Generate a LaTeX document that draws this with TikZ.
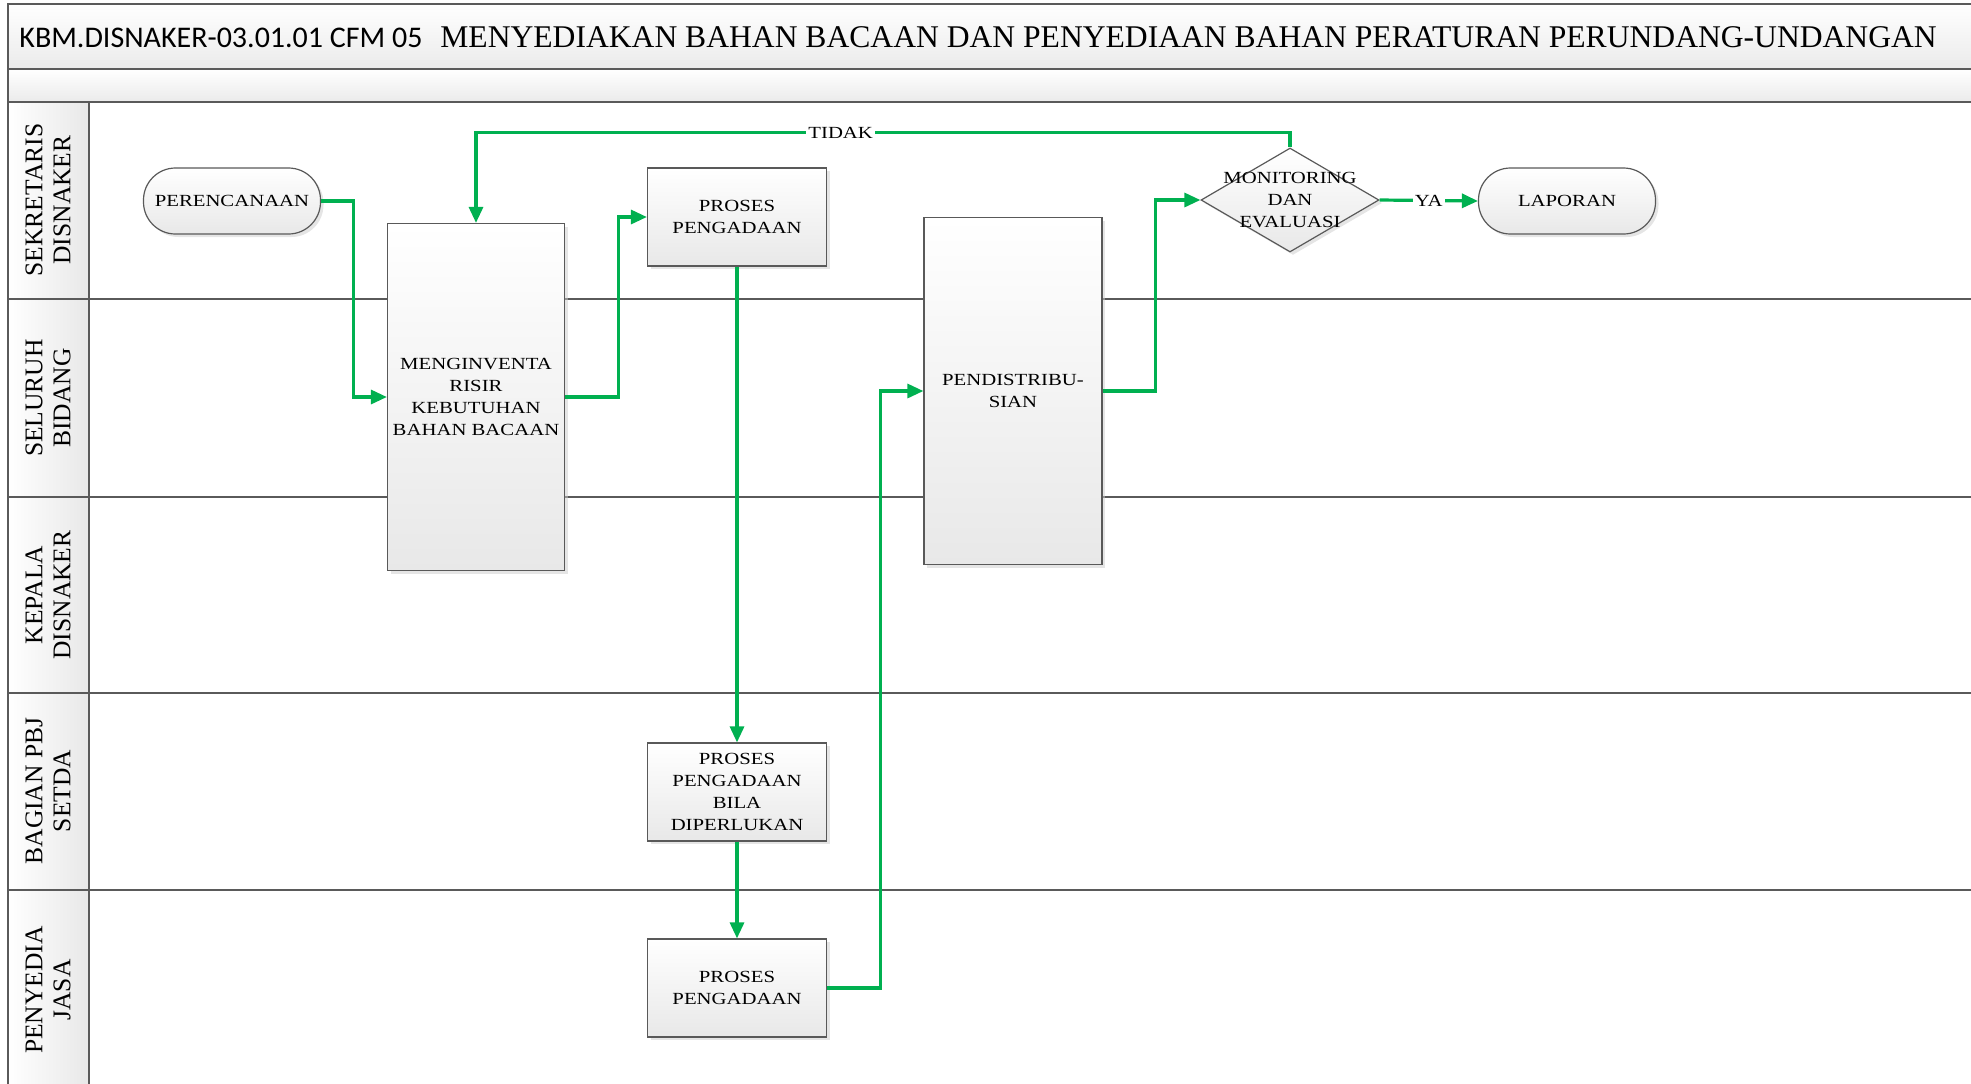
\documentclass[tikz,border=0pt]{standalone}
\usepackage{fontspec}
\setmainfont{Liberation Serif}
\newfontfamily\boxfont[FakeStretch=1.22]{Liberation Serif}
\newfontfamily\codefont{Carlito}
\usetikzlibrary{shapes.geometric,arrows.meta,shadows}
\definecolor{flowgreen}{HTML}{00B050}
\definecolor{framegray}{HTML}{5A5A5A}

\begin{document}
\begin{tikzpicture}[x=0.5pt,y=-0.5pt,
  frame/.style={draw=framegray, line width=1pt},
  boxtext/.style={font=\boxfont\fontsize{8.5}{11}\selectfont, align=center, text=black},
  shade/.style={top color=white, bottom color=black!9,
    drop shadow={shadow xshift=1.5pt, shadow yshift=-1.5pt, fill=black!20}},
  task/.style={boxtext, shade, draw=black!65, line width=0.6pt, rectangle, inner sep=0pt},
  terminal/.style={task, rounded corners=16pt},
  decision/.style={shade, draw=black!65, line width=0.6pt, diamond, inner sep=0pt,
    minimum width=89pt, minimum height=52pt},
  flow/.style={draw=flowgreen, line width=1.6pt, -{Triangle[length=8pt,width=7pt]}},
  lanetitle/.style={font=\fontsize{12.75}{14}\selectfont, align=center, rotate=90, inner sep=0pt},
  tag/.style={boxtext, fill=white, inner sep=1pt}
]
\useasboundingbox (0,0) rectangle (1971,1083);

% header bands and lane column
\path[top color=white, bottom color=black!8] (8,4) rectangle (1980,69);
\path[top color=white, bottom color=black!8] (8,69) rectangle (1980,102);
\path[left color=white, right color=black!9] (8,102) rectangle (89,1095);

% frame and lane separators
\draw[frame] (1980,4) -- (8,4) -- (8,1095);
\draw[frame] (8,69) -- (1980,69);
\draw[frame] (8,102) -- (1980,102);
\foreach \ly in {299,497,693,890}
  \draw[frame] (8,\ly) -- (1980,\ly);
\draw[frame] (89,102) -- (89,1095);

% title
\node[anchor=base west, inner sep=0pt, font=\codefont\fontsize{15}{18}\selectfont] (code) at (19,47)
  {KBM.DISNAKER-03.01.01 CFM 05};
\node[anchor=base west, inner sep=0pt, font=\fontsize{15.8}{18}\selectfont] (title) at (440,47)
  {MENYEDIAKAN BAHAN BACAAN DAN PENYEDIAAN BAHAN PERATURAN PERUNDANG-UNDANGAN};

% lane titles
\node[lanetitle] (lane1) at (48,200) {SEKRETARIS\\DISNAKER};
\node[lanetitle] (lane2) at (48,398) {SELURUH\\BIDANG};
\node[lanetitle] (lane3) at (48,595) {KEPALA\\DISNAKER};
\node[lanetitle] (lane4) at (48,791) {BAGIAN PBJ\\SETDA};
\node[lanetitle] (lane5) at (48,990) {PENYEDIA\\JASA};

% process steps
\node[terminal, minimum width=88.5pt, minimum height=33pt] (per) at (232,201) {PERENCANAAN};
\node[task, minimum width=88.5pt, minimum height=173.5pt] (inv) at (476,397)
  {MENGINVENTA\\RISIR\\KEBUTUHAN\\BAHAN BACAAN};
\node[task, minimum width=89.5pt, minimum height=49pt] (pp1) at (737,217) {PROSES\\PENGADAAN};
\node[task, minimum width=89.5pt, minimum height=49pt] (pp2) at (737,792)
  {PROSES\\PENGADAAN\\BILA\\DIPERLUKAN};
\node[task, minimum width=89.5pt, minimum height=49pt] (pp3) at (737,988) {PROSES\\PENGADAAN};
\node[task, minimum width=89pt, minimum height=173.5pt] (dist) at (1013,391) {PENDISTRIBU-\\SIAN};
\node[decision, label={[boxtext]center:MONITORING\\DAN\\EVALUASI}] (mon) at (1290,200) {};
\node[terminal, minimum width=88.5pt, minimum height=33pt] (lap) at (1567,201) {LAPORAN};

% connectors
\draw[flow] (per.east) -- ++(32,0) |- (inv.west);
\draw[flow] (inv.east) -- ++(53,0) |- (pp1.west);
\draw[flow] (pp1.south) -- (pp2.north);
\draw[flow] (pp2.south) -- (pp3.north);
\draw[flow] (pp3.east) -- ++(53,0) |- (dist.west);
\draw[flow] (dist.east) -- ++(53,0) |- (mon.west);
\draw[flow] (mon.east) -- node[tag] {YA} (lap.west);
\draw[flow] (mon.north) -- ++(0,-15) -| node[tag, pos=0.276] {TIDAK} (inv.north);
\end{tikzpicture}
\end{document}
